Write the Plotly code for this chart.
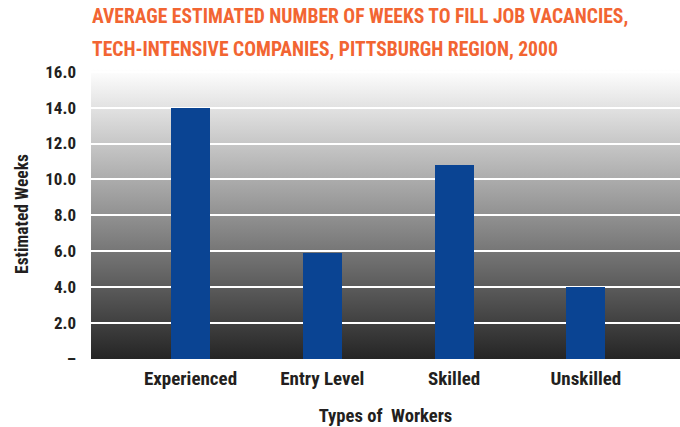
import base64
import plotly.graph_objects as go

# Survey results: average weeks needed to fill a vacancy, by worker type
worker_types = ["Experienced", "Entry Level", "Skilled", "Unskilled"]
weeks_to_fill = [14.0, 5.9, 10.8, 4.0]

y_tick_values = [0, 2, 4, 6, 8, 10, 12, 14, 16]
y_tick_labels = ["–", "2.0", "4.0", "6.0", "8.0", "10.0", "12.0", "14.0", "16.0"]

TITLE_LINES = [
    "AVERAGE ESTIMATED NUMBER OF WEEKS TO FILL JOB VACANCIES,",
    "TECH-INTENSIVE COMPANIES, PITTSBURGH REGION, 2000",
]

FONT = "Roboto Condensed, DejaVu Sans Condensed, sans-serif"
ORANGE = "#F26532"
BAR_BLUE = "#0A4493"
TEXT_DARK = "#231F20"

W, H = 680, 427
M_L, M_R, M_T, M_B = 91, 0, 69, 67.5

# Vertical white-to-charcoal gradient used as the plot-area backdrop
svg = (
    '<svg xmlns="http://www.w3.org/2000/svg" width="100" height="100" '
    'preserveAspectRatio="none" viewBox="0 0 100 100">'
    '<defs><linearGradient id="g" x1="0" y1="0" x2="0" y2="1">'
    '<stop offset="0" stop-color="#ffffff"/>'
    '<stop offset="1" stop-color="#252525"/>'
    '</linearGradient></defs>'
    '<rect x="0" y="0" width="100" height="100" fill="url(#g)"/></svg>'
)
svg_uri = "data:image/svg+xml;base64," + base64.b64encode(svg.encode()).decode()

fig = go.Figure(
    go.Bar(
        x=worker_types,
        y=weeks_to_fill,
        marker=dict(color=BAR_BLUE, line=dict(width=0)),
        width=0.296,
        hoverinfo="x+y",
    )
)

fig.add_layout_image(
    dict(
        source=svg_uri,
        xref="paper", yref="paper",
        x=0, y=1, sizex=1, sizey=1,
        xanchor="left", yanchor="top",
        sizing="stretch", layer="below",
    )
)

title_y = [16.7, 49]
for text, yc in zip(TITLE_LINES, title_y):
    fig.add_annotation(
        text=text,
        xref="paper", yref="paper",
        x=(89.5 - M_L) / (W - M_L - M_R),
        y=1 + (M_T - yc) / (H - M_T - M_B),
        xanchor="left", yanchor="middle",
        showarrow=False,
        font=dict(family=FONT, size=19.6, color=ORANGE, weight="bold"),
    )

fig.update_layout(
    width=W, height=H, autosize=False,
    margin=dict(l=M_L, r=M_R, t=M_T, b=M_B, pad=0),
    paper_bgcolor="white",
    plot_bgcolor="rgba(0,0,0,0)",
    showlegend=False,
    bargap=0,
    font=dict(family=FONT, color=TEXT_DARK),
)

fig.update_xaxes(
    range=[-0.755, 3.714],
    showgrid=False, zeroline=False, showline=False, ticks="",
    tickfont=dict(family=FONT, size=19, color=TEXT_DARK, weight="bold"),
    ticklabelstandoff=6,
    title=dict(
        text="Types of  Workers",
        font=dict(family=FONT, size=18.6, color=TEXT_DARK, weight="bold"),
        standoff=20,
    ),
)

fig.update_yaxes(
    range=[0, 16.15],
    tickmode="array", tickvals=y_tick_values, ticktext=y_tick_labels,
    showgrid=True, gridcolor="white", gridwidth=2,
    zeroline=False, showline=False, ticks="",
    ticklabelstandoff=14,
    tickfont=dict(family=FONT, size=17, color=TEXT_DARK, weight="bold"),
    title=dict(
        text="Estimated Weeks",
        font=dict(family=FONT, size=17.5, color=TEXT_DARK, weight="bold"),
        standoff=12,
    ),
)

fig.write_html("out.html")
